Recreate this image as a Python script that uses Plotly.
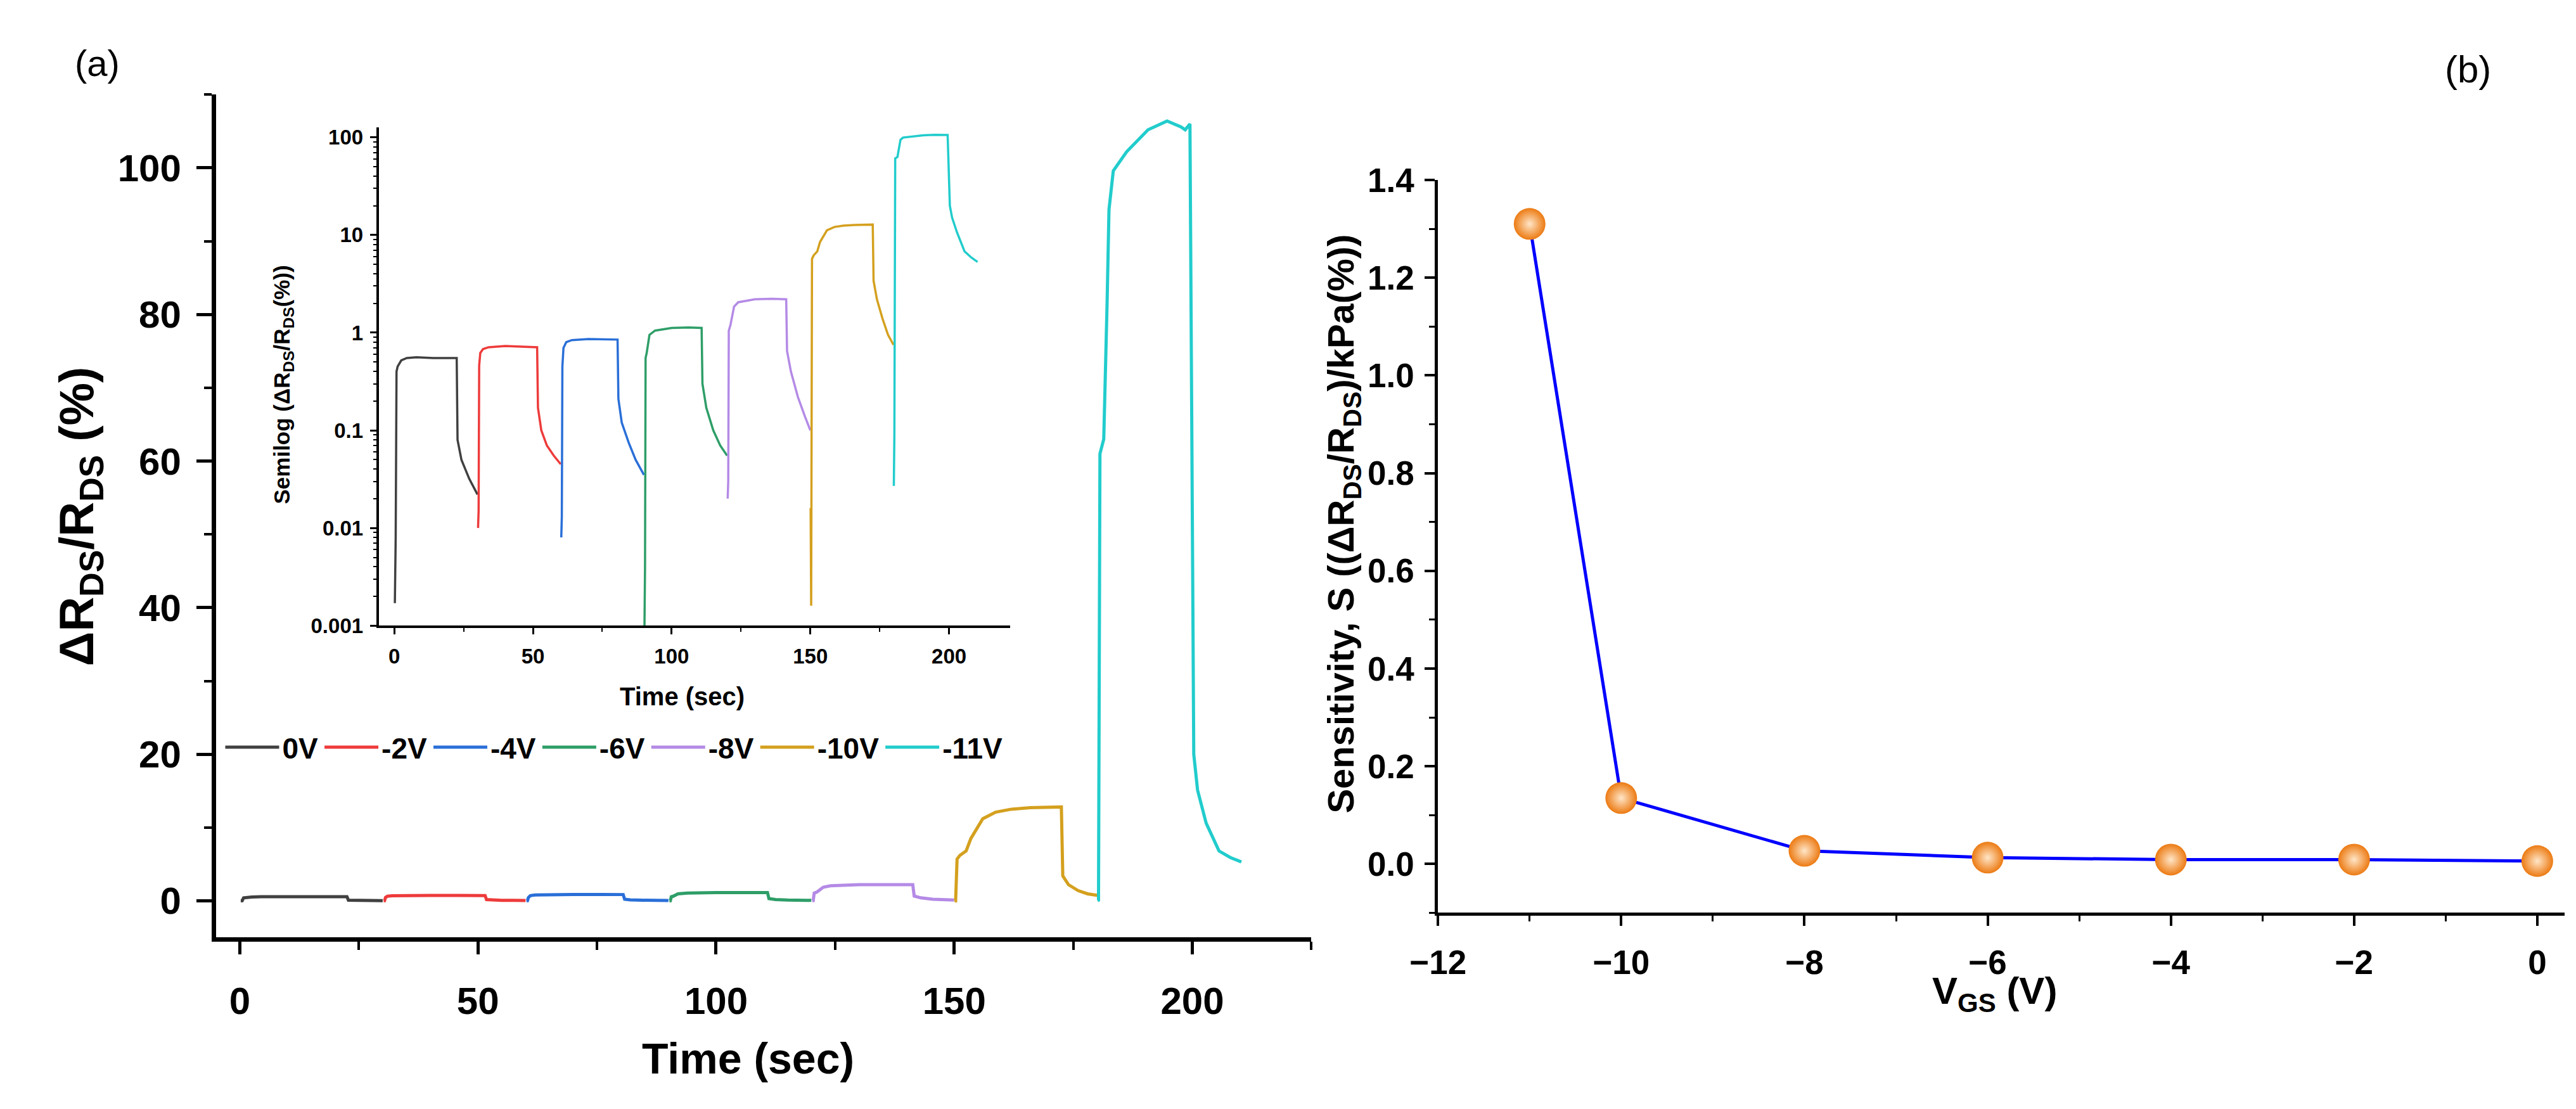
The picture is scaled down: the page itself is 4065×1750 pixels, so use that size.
import plotly.graph_objects as go

# ---- panel (a): dR/R vs time for each gate voltage ----
labels = ["0V", "-2V", "-4V", "-6V", "-8V", "-10V", "-11V"]
colors = ["#404040", "#ee3b3b", "#2a6fd8", "#2e9e68", "#b48ae6", "#d4a01e", "#22cccc"]

t_0v = [0.2, 0.5, 0.8, 1.2, 2.5, 4.5, 8, 14, 22.5, 22.8, 24.2, 27, 30]
v_0v = [0.0017, 0.008, 0.40, 0.45, 0.52, 0.55, 0.56, 0.55, 0.55, 0.08, 0.05, 0.032, 0.022]

t_2v = [30.2, 30.4, 30.6, 31.0, 32.0, 34, 40, 46, 51.5, 51.8, 53, 55, 57.5, 60]
v_2v = [0.010, 0.015, 0.46, 0.62, 0.68, 0.71, 0.73, 0.72, 0.71, 0.17, 0.10, 0.07, 0.055, 0.045]

t_4v = [60.2, 60.4, 60.6, 61.0, 62, 64, 70, 76, 80.5, 80.8, 82, 84.5, 87, 90]
v_4v = [0.008, 0.013, 0.45, 0.70, 0.80, 0.84, 0.86, 0.86, 0.85, 0.21, 0.12, 0.075, 0.05, 0.035]

t_6v = [90.2, 90.4, 90.6, 91.0, 92, 94, 100, 106, 110.8, 111.1, 112.5, 115, 117.5, 120]
v_6v = [0.001, 0.004, 0.55, 0.62, 0.95, 1.05, 1.12, 1.13, 1.12, 0.30, 0.17, 0.10, 0.07, 0.055]

t_8v = [120.2, 120.4, 120.6, 121.2, 122.5, 124, 130, 136, 141.3, 141.6, 143, 145.5, 148, 150]
v_8v = [0.020, 0.030, 1.05, 1.2, 1.85, 2.05, 2.2, 2.22, 2.2, 0.65, 0.40, 0.22, 0.14, 0.10]

t_10v = [150.1, 150.3, 150.6, 151.2, 152.5, 153.5, 156, 158.7, 162, 166, 172.5, 172.8, 174, 176, 178, 180]
v_10v = [0.016, 0.0016, 5.7, 6.2, 6.8, 8.5, 11.2, 12.1, 12.5, 12.7, 12.8, 3.4, 2.2, 1.4, 0.95, 0.75]

t_11v = [180.1, 180.3, 180.6, 181.4, 182.1, 182.5, 183.4, 186.2, 190.7, 194.7, 197.6, 198.5, 199.5,
         200.3, 201.1, 202.9, 205.6, 208, 210.3]
v_11v = [0.027, 0.09, 61, 63, 81.5, 94.3, 99.6, 102.2, 105.2, 106.4, 105.6, 105.2, 106,
         20, 15.1, 10.6, 6.8, 5.9, 5.3]

times = [t_0v, t_2v, t_4v, t_6v, t_8v, t_10v, t_11v]
values = [v_0v, v_2v, v_4v, v_6v, v_8v, v_10v, v_11v]

# ---- panel (b): sensitivity vs gate voltage ----
vgs = [-11, -10, -8, -6, -4, -2, 0]
sens = [1.31, 0.135, 0.027, 0.013, 0.009, 0.009, 0.006]

FONT = "Liberation Sans"
W, H = 4065, 1750

fig = go.Figure()

for lab, col, t, v in zip(labels, colors, times, values):
    fig.add_trace(go.Scatter(x=t, y=v, mode="lines", name=lab, legendgroup=lab,
                             line=dict(color=col, width=5), xaxis="x", yaxis="y"))
    fig.add_trace(go.Scatter(x=t, y=v, mode="lines", name=lab, legendgroup=lab, showlegend=False,
                             line=dict(color=col, width=3.5), xaxis="x2", yaxis="y2"))

fig.add_trace(go.Scatter(x=vgs, y=sens, mode="lines+markers", showlegend=False,
                         line=dict(color="#0000ff", width=5),
                         marker=dict(size=50, color="#ec7a12",
                                     gradient=dict(type="radial", color="#ffe6c8"),
                                     line=dict(width=0)),
                         xaxis="x3", yaxis="y3"))


def ax(**kw):
    base = dict(showline=True, linecolor="black", showgrid=False, zeroline=False,
                ticks="outside", tickcolor="black", mirror=False)
    base.update(kw)
    return base


log_minor = [m * 10 ** e for e in range(-3, 3) for m in range(2, 10)]

fig.update_layout(
    width=W, height=H, margin=dict(l=0, r=0, t=0, b=0),
    paper_bgcolor="white", plot_bgcolor="rgba(0,0,0,0)",
    font=dict(family=FONT, color="black"),
    xaxis=ax(domain=[0.0716, 0.5016], range=[-5, 225], anchor="y", dtick=50,
             linewidth=7, ticklen=20, tickwidth=5, ticklabelstandoff=22,
             tickfont=dict(size=60, weight="bold"),
             minor=dict(dtick=25, ticks="outside", ticklen=13, tickwidth=4)),
    yaxis=ax(domain=[0.1526, 0.934], range=[-5, 110], anchor="x", dtick=20,
             linewidth=7, ticklen=24, tickwidth=5, ticklabelstandoff=12,
             tickfont=dict(size=60, weight="bold"),
             minor=dict(dtick=10, ticks="outside", ticklen=12, tickwidth=4)),
    xaxis2=ax(domain=[0.1355, 0.3833], range=[-5.6, 222], anchor="y2", dtick=50,
              linewidth=4, ticklen=10, tickwidth=3, ticklabelstandoff=6,
              tickfont=dict(size=33, weight="bold"),
              minor=dict(dtick=25, ticks="outside", ticklen=6, tickwidth=2)),
    yaxis2=ax(domain=[0.4417, 0.9034], type="log", range=[-3, 2.1], anchor="x2",
              tickvals=[0.001, 0.01, 0.1, 1, 10, 100],
              ticktext=["0.001", "0.01", "0.1", "1", "10", "100"],
              linewidth=4, ticklen=10, tickwidth=3, ticklabelstandoff=4,
              tickfont=dict(size=33, weight="bold"),
              minor=dict(tickmode="array", tickvals=log_minor, ticks="outside",
                         ticklen=5, tickwidth=2)),
    xaxis3=ax(domain=[0.5513, 0.9936], range=[-12, 0.3], anchor="y3", dtick=2,
              linewidth=5, ticklen=16, tickwidth=4, ticklabelstandoff=12,
              tickfont=dict(size=53, weight="bold"),
              minor=dict(dtick=1, ticks="outside", ticklen=9, tickwidth=3)),
    yaxis3=ax(domain=[0.1754, 0.8549], range=[-0.1, 1.4], anchor="x3", dtick=0.2,
              tickformat=".1f", linewidth=5, ticklen=16, tickwidth=4, ticklabelstandoff=6,
              tickfont=dict(size=53, weight="bold"),
              minor=dict(dtick=0.1, ticks="outside", ticklen=9, tickwidth=3)),
    legend=dict(orientation="h", x=0.074, y=0.329, xanchor="left", yanchor="middle",
                font=dict(size=46, weight="bold"), itemwidth=85, bgcolor="rgba(0,0,0,0)",
                tracegroupgap=0),
)


def note(text, x, y, size, angle=0, bold=True):
    fig.add_annotation(text=text, x=x, y=y, xref="paper", yref="paper", showarrow=False,
                       textangle=angle, xanchor="center", yanchor="middle",
                       font=dict(size=size, weight="bold" if bold else "normal", family=FONT))


note("(a)", 102 / W, 1 - 64 / H, 58, bold=False)
note("(b)", 3885 / W, 1 - 75 / H, 60, bold=False)
note("ΔR<sub>DS</sub>/R<sub>DS</sub> (%)", 74 / W, 1 - 800 / H, 76, angle=-90)
note("Time (sec)", 1140 / W, 1 - 1679 / H, 68)
note("Semilog (ΔR<sub>DS</sub>/R<sub>DS</sub>(%))", 398 / W, 1 - 586 / H, 35, angle=-90)
note("Time (sec)", 1035 / W, 1 - 1092 / H, 40)
note("Sensitivity, S ((ΔR<sub>DS</sub>/R<sub>DS</sub>)/kPa(%))", 2090 / W, 1 - 812 / H, 58, angle=-90)
note("V<sub>GS</sub> (V)", 3129 / W, 1 - 1574 / H, 60)

fig.write_html("out.html")
